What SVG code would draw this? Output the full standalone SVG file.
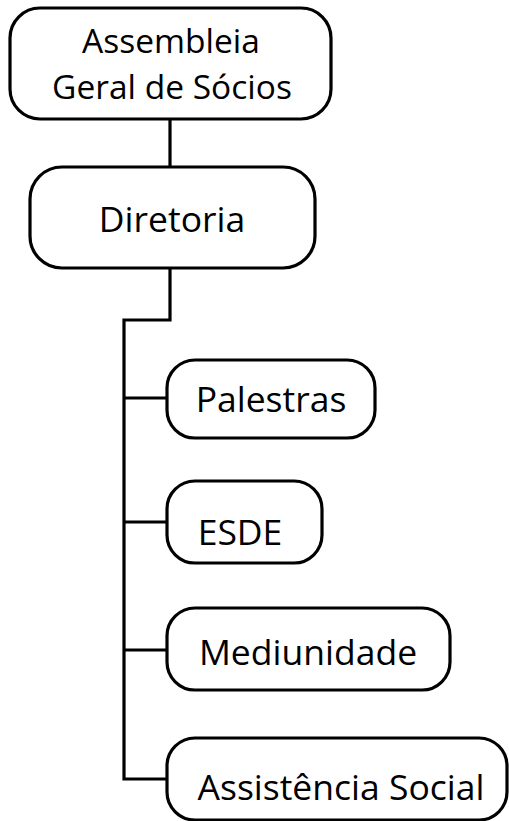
<svg xmlns="http://www.w3.org/2000/svg" width="509" height="821" viewBox="0 0 509 821">
<style>
.box{fill:#fff;stroke:#000;stroke-width:3.2}
.lbl{font-family:"Open Sans","Noto Sans",sans-serif;font-size:35.5px;fill:#000;text-anchor:middle}
.sm{font-size:33.5px}
.con{fill:none;stroke:#000;stroke-width:3.2}
</style>
<rect width="509" height="821" fill="#fff"/>
<g id="connectors">
<path class="con" d="M170,119 V167"/>
<path class="con" d="M170,268 V320 H124 V779 H167"/>
<path class="con" d="M124,398 H167"/>
<path class="con" d="M124,522 H167"/>
<path class="con" d="M124,650 H167"/>
</g>
<g id="assembleia">
<rect class="box" x="10" y="8" width="321" height="111" rx="30"/>
<text class="lbl sm" x="171" y="53">Assembleia</text>
<text class="lbl sm" x="172" y="99">Geral de Sócios</text>
</g>
<g id="diretoria">
<rect class="box" x="30" y="167" width="285" height="101" rx="32"/>
<text class="lbl" x="172" y="232">Diretoria</text>
</g>
<g id="palestras">
<rect class="box" x="167" y="360" width="208" height="78" rx="28"/>
<text class="lbl" x="271" y="412">Palestras</text>
</g>
<g id="esde">
<rect class="box" x="167" y="481" width="155" height="82" rx="28"/>
<text class="lbl" x="240" y="545">ESDE</text>
</g>
<g id="mediunidade">
<rect class="box" x="167" y="608" width="283" height="82" rx="28"/>
<text class="lbl" x="308" y="665">Mediunidade</text>
</g>
<g id="assistencia">
<rect class="box" x="167" y="738" width="340" height="82" rx="28"/>
<text class="lbl" x="341" y="800">Assistência Social</text>
</g>
</svg>
